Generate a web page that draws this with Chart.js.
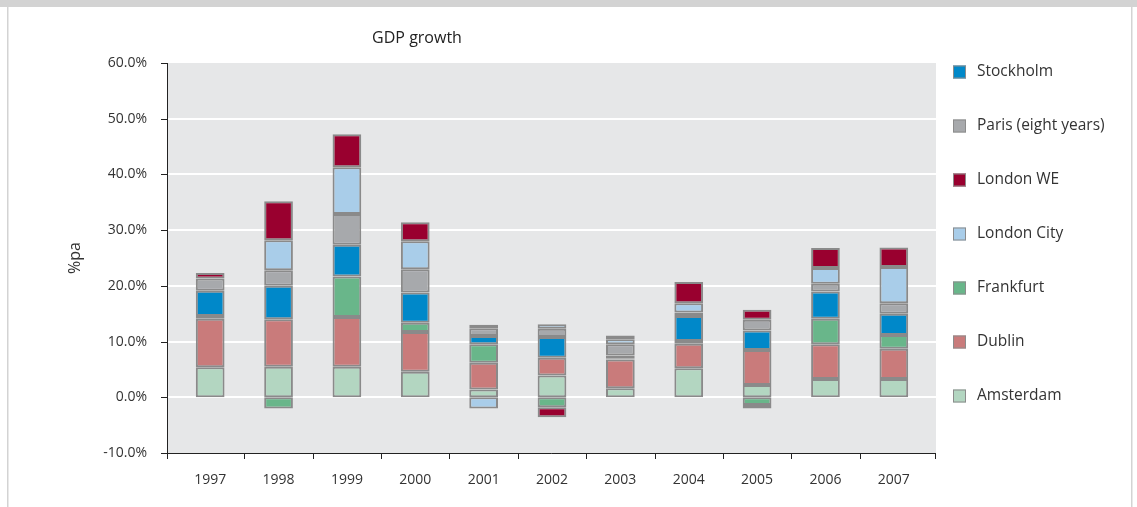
<!DOCTYPE html>
<html>
<head>
<meta charset="utf-8">
<title>GDP growth</title>
<script src="https://cdn.jsdelivr.net/npm/chart.js@4.4.1/dist/chart.umd.min.js"></script>
<style>
  html, body { margin: 0; padding: 0; background: #fff; }
  #Chart { display: block; }
</style>
</head>
<body>
<canvas id="Chart" width="1137" height="507"></canvas>
<script>
// years on the x axis
const years = ["1997", "1998", "1999", "2000", "2001", "2002", "2003", "2004", "2005", "2006", "2007"];

// %pa contribution per city (stack order bottom -> top)
const amsterdam = [5.4, 5.5, 5.5, 4.6, 1.4, 3.9, 1.6, 5.2, 2.2, 3.3, 3.3];
const dublin = [8.7, 8.5, 8.9, 7.1, 4.8, 3.2, 5.2, 4.4, 6.3, 6.2, 5.4];
const frankfurt = [0.5, -2.0, 7.3, 1.7, 3.3, -1.8, 0.2, 0.5, -1.4, 4.6, 2.5];
const stockholm = [4.5, 6.0, 5.7, 5.4, 1.5, 3.7, 0.5, 4.5, 3.5, 4.9, 3.8];
const paris = [2.2, 2.8, 5.5, 4.2, 1.4, 1.5, 2.0, 0.6, 1.9, 1.4, 1.9];
const londonCity = [0, 5.4, 8.4, 5.0, -2.0, 0.8, 0.9, 1.7, -0.6, 2.8, 6.5];
const londonWE = [1.0, 7.0, 5.9, 3.4, 0.6, -1.8, 0.7, 3.8, 1.8, 3.6, 3.5];

const yTicks = [-10, 0, 10, 20, 30, 40, 50, 60];

// legend is not in stack order in the original
const legendOrder = ["Stockholm", "Paris (eight years)", "London WE", "London City", "Frankfurt", "Dublin", "Amsterdam"];

const fargeKoder = {
  Amsterdam: "#b3d6c1",
  Dublin: "#c97b7b",
  Frankfurt: "#69b68a",
  Stockholm: "#0088c9",
  "Paris (eight years)": "#a7a9ac",
  "London City": "#a9cde9",
  "London WE": "#99002f",
};

const FONT = "'Open Sans', 'Noto Sans', sans-serif";
const TEXT = "#333333";

const series = [
  ["Amsterdam", amsterdam],
  ["Dublin", dublin],
  ["Frankfurt", frankfurt],
  ["Stockholm", stockholm],
  ["Paris (eight years)", paris],
  ["London City", londonCity],
  ["London WE", londonWE],
];

const datasets_list = series.map(([label, data]) => {
  return {
    label: label,
    data: data,
    backgroundColor: fargeKoder[label],
    borderColor: "#8a8a8a",
    borderWidth: 2,
    borderSkipped: false,
    categoryPercentage: 1,
    barPercentage: 0.42,
  };
});

// frame, grey plot background, gridlines, axes, title and legend
const decor = {
  id: "decor",
  beforeDraw: (chart) => {
    const ctx = chart.ctx;
    ctx.save();
    ctx.fillStyle = "#ffffff";
    ctx.fillRect(0, 0, chart.width, chart.height);
    ctx.fillStyle = "#d3d3d3";
    ctx.fillRect(0, 0, chart.width, 7);
    ctx.fillRect(7, 7, 1.5, chart.height - 7);
    ctx.fillRect(1131, 7, 1.5, chart.height - 7);
    ctx.restore();
  },
  beforeDatasetsDraw: (chart) => {
    const ctx = chart.ctx;
    const a = chart.chartArea;
    const y = chart.scales.y;
    const left = a.left - 9;
    const right = a.right + 8;
    ctx.save();
    ctx.fillStyle = "#e6e7e8";
    ctx.fillRect(left, a.top, right - left, a.bottom - a.top);
    ctx.strokeStyle = "#ffffff";
    ctx.lineWidth = 2;
    yTicks.forEach((v) => {
      if (v <= -10 || v >= 60) return;
      const py = Math.round(y.getPixelForValue(v));
      ctx.beginPath();
      ctx.moveTo(left, py);
      ctx.lineTo(right, py);
      ctx.stroke();
    });
    ctx.restore();
  },
  afterDatasetsDraw: (chart) => {
    const ctx = chart.ctx;
    const a = chart.chartArea;
    const x = chart.scales.x;
    const y = chart.scales.y;
    const left = a.left - 9;
    const right = a.right + 8;
    ctx.save();
    ctx.strokeStyle = "#222222";
    ctx.lineWidth = 1;
    ctx.beginPath();
    ctx.moveTo(left + 0.5, a.top);
    ctx.lineTo(left + 0.5, a.bottom + 0.5);
    ctx.lineTo(right, a.bottom + 0.5);
    // y ticks go out to the left
    yTicks.forEach((v) => {
      const py = Math.round(y.getPixelForValue(v)) + 0.5;
      ctx.moveTo(left - 6, py);
      ctx.lineTo(left + 0.5, py);
    });
    // x ticks between the years
    const half = (x.getPixelForValue(1) - x.getPixelForValue(0)) / 2;
    const xt = [left + 0.5];
    for (let i = 0; i < years.length - 1; i++) xt.push(Math.round(x.getPixelForValue(i) + half) + 0.5);
    xt.push(right - 0.5);
    xt.forEach((px) => {
      ctx.moveTo(px, a.bottom);
      ctx.lineTo(px, a.bottom + 6);
    });
    ctx.stroke();

    // title
    ctx.fillStyle = "#222222";
    ctx.font = "16px " + FONT;
    ctx.textAlign = "center";
    ctx.textBaseline = "middle";
    ctx.fillText("GDP growth", 417, 38);

    // legend
    ctx.font = "15.5px " + FONT;
    ctx.textAlign = "left";
    legendOrder.forEach((label, i) => {
      const cy = 72 + i * 54;
      ctx.fillStyle = fargeKoder[label];
      ctx.fillRect(953, cy - 6.5, 13, 13);
      ctx.strokeStyle = "#8c8c8c";
      ctx.lineWidth = 1;
      ctx.strokeRect(953.5, cy - 6, 12, 12);
      ctx.fillStyle = TEXT;
      ctx.fillText(label, 977, cy);
    });
    ctx.restore();
  },
};

const makeChart = () => {
  const ctx = document.getElementById("Chart").getContext("2d");
  new Chart(ctx, {
    type: "bar",
    data: {
      labels: years,
      datasets: datasets_list,
    },
    plugins: [decor],
    options: {
      responsive: false,
      animation: false,
      devicePixelRatio: 1,
      layout: {
        padding: { top: 63, right: 209, bottom: 0, left: 0 },
      },
      plugins: {
        legend: { display: false },
        title: { display: false },
        tooltip: { enabled: false },
      },
      scales: {
        x: {
          stacked: true,
          grid: { display: false, drawTicks: false },
          border: { display: false },
          ticks: {
            color: TEXT,
            font: { family: FONT, size: 14 },
            padding: 19,
            maxRotation: 0,
          },
          afterFit: (scale) => {
            scale.height = 54;
          },
        },
        y: {
          stacked: true,
          min: -10,
          max: 60,
          grid: { display: false, drawTicks: false },
          border: { display: false },
          afterBuildTicks: (scale) => {
            scale.ticks = yTicks.map((v) => ({ value: v }));
          },
          ticks: {
            color: TEXT,
            font: { family: FONT, size: 14 },
            padding: 29,
            callback: (v) => v.toFixed(1) + "%",
          },
          title: {
            display: true,
            text: "%pa",
            color: TEXT,
            font: { family: FONT, size: 16 },
            padding: { top: 66, bottom: 0 },
          },
          afterFit: (scale) => {
            scale.width = 176;
          },
        },
      },
    },
  });
};

makeChart();
</script>
</body>
</html>
